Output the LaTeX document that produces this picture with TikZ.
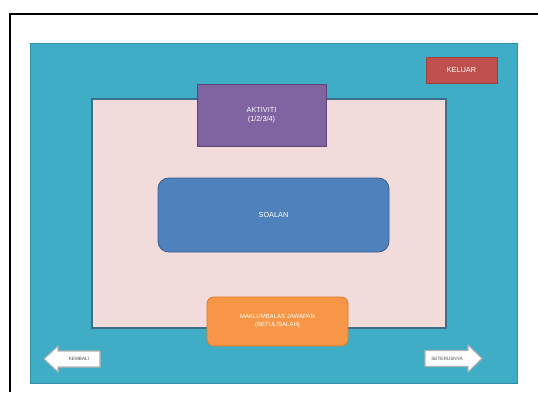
\documentclass[tikz,border=0pt]{standalone}
\usepackage{fontspec}
\setmainfont{Liberation Sans}
\definecolor{teal1}{HTML}{3FADC6}
\definecolor{teal2}{HTML}{2E8FA6}
\definecolor{pink1}{HTML}{F2DCDB}
\definecolor{pinkline}{HTML}{3E6E8A}
\definecolor{purp}{HTML}{8064A2}
\definecolor{purpline}{HTML}{5C4776}
\definecolor{redb}{HTML}{C0504D}
\definecolor{blueb}{HTML}{4F81BD}
\definecolor{bluel}{HTML}{385D8A}
\definecolor{orng}{HTML}{F79646}
\definecolor{orngl}{HTML}{E07B2A}
\tikzset{
  lbl/.style={text=white, font=\fontsize{5.5}{6.5}\selectfont, align=center},
  arrowbox/.style={fill=white, draw=gray!60, line width=0.8pt, line join=round}
}
\begin{document}
\begin{tikzpicture}[x={(0.75pt,0)}, y={(0,-0.75pt)}]
\useasboundingbox (0,0) rectangle (538,392);
\fill[white] (0,0) rectangle (538,392);
% frame lines
\coordinate (fa) at (10,392);
\coordinate (fb) at (10,14);
\coordinate (fc) at (538,14);
\draw[line width=1.2pt] (fa) -- (fb) -- (fc);
% teal background
\node[fill=teal1, draw=teal2, line width=0.5pt, minimum width=487*0.75pt, minimum height=340*0.75pt, inner sep=0] (bg) at (273.5,213) {};
% pink panel
\node[fill=pink1, draw=pinkline, line width=0.8pt, minimum width=354*0.75pt, minimum height=229*0.75pt, inner sep=0] (panel) at (269,213.5) {};
% KELUAR
\node[fill=redb, draw=redb!80!black, line width=0.5pt, minimum width=71*0.75pt, minimum height=26*0.75pt, inner sep=0, lbl] (keluar) at (461.5,70) {KELUAR};
% AKTIVITI
\node[fill=purp, draw=purpline, line width=0.6pt, minimum width=129*0.75pt, minimum height=62*0.75pt, inner sep=0, lbl] (akt) at (261.5,115) {AKTIVITI\\(1/2/3/4)};
% SOALAN
\node[fill=blueb, draw=bluel, line width=0.6pt, rounded corners=8pt, minimum width=231*0.75pt, minimum height=74*0.75pt, inner sep=0, lbl] (soalan) at (273.5,215) {SOALAN};
% orange
\node[fill=orng, draw=orngl, line width=0.6pt, rounded corners=5pt, minimum width=141*0.75pt, minimum height=49*0.75pt, inner sep=0, lbl, font=\fontsize{4.5}{6}\selectfont] (maklum) at (277.5,321.5) {MAKLUMBALAS JAWAPAN\\(BETUL/SALAH)};
% left arrow
\draw[arrowbox] (44,359) -- (58,346) -- (58,351) -- (100,351) -- (100,367) -- (58,367) -- (58,372) -- cycle;
\node[font=\fontsize{3.5}{4}\selectfont, text=gray!60!black] (kembali) at (79,359) {KEMBALI};
% right arrow
\draw[arrowbox] (482,358.5) -- (468,345) -- (468,350.5) -- (425,350.5) -- (425,366.5) -- (468,366.5) -- (468,372) -- cycle;
\node[font=\fontsize{3.5}{4}\selectfont, text=gray!60!black] (seterus) at (447,358.5) {SETERUSNYA};
\end{tikzpicture}
\end{document}
